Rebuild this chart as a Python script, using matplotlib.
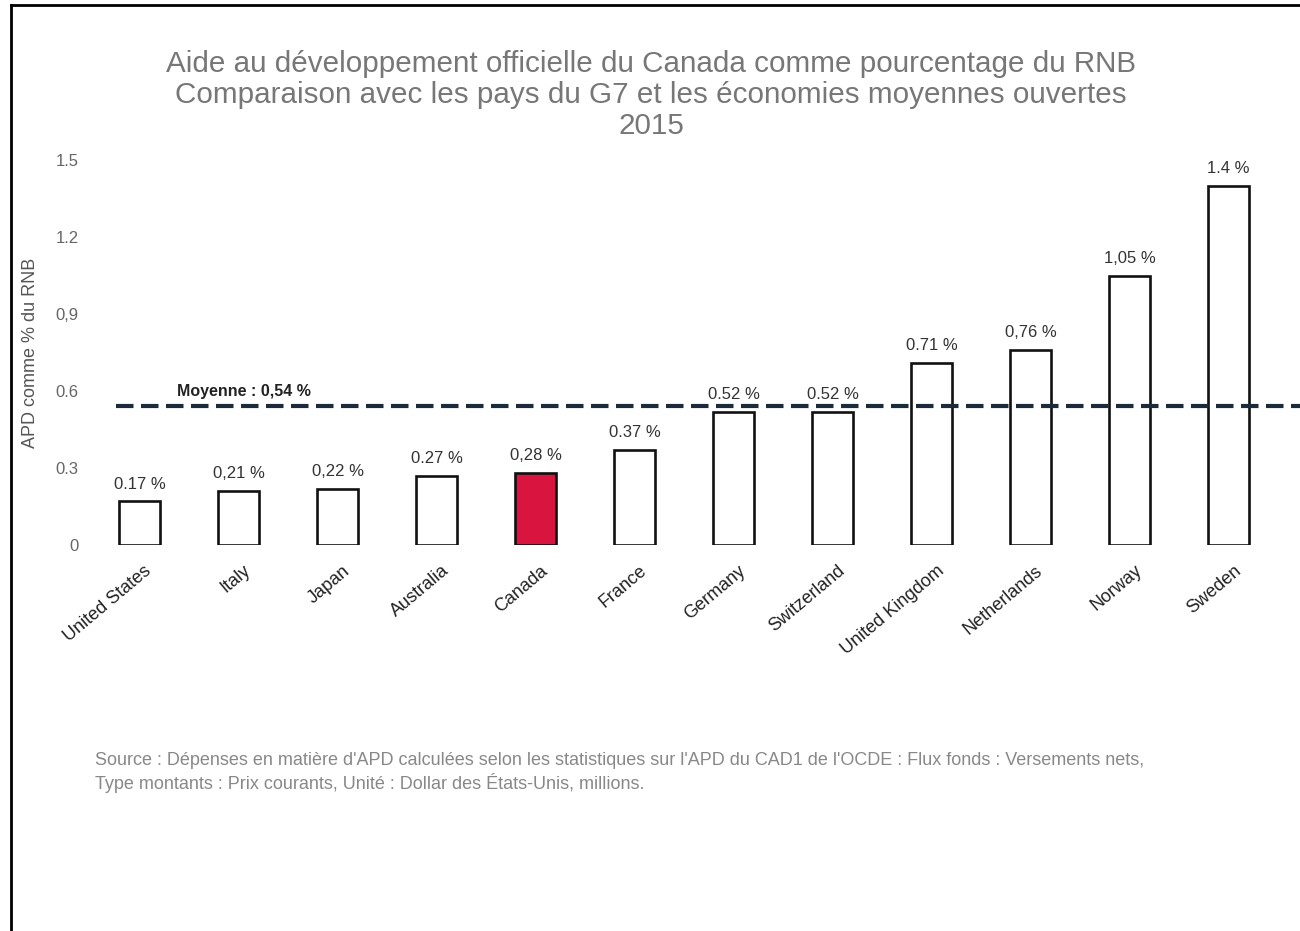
import matplotlib
matplotlib.use("Agg")
import matplotlib.pyplot as plt
from matplotlib.lines import Line2D
import matplotlib.transforms as mtransforms

plt.rcParams['font.family'] = ['Liberation Sans', 'DejaVu Sans']

# APD en % du RNB, 2015
pays = ['United States', 'Italy', 'Japan', 'Australia', 'Canada', 'France',
        'Germany', 'Switzerland', 'United Kingdom', 'Netherlands', 'Norway', 'Sweden']
apd = [0.17, 0.21, 0.22, 0.27, 0.28, 0.37, 0.52, 0.52, 0.71, 0.76, 1.05, 1.4]
etiquettes = ['0.17 %', '0,21 %', '0,22 %', '0.27 %', '0,28 %', '0.37 %',
              '0.52 %', '0.52 %', '0.71 %', '0,76 %', '1,05 %', '1.4 %']
moyenne = 0.54
yticks = [0, 0.3, 0.6, 0.9, 1.2, 1.5]
yticklabels = ['0', '0.3', '0.6', '0,9', '1.2', '1.5']

fig = plt.figure(figsize=(13, 9.31), dpi=100)
ax = fig.add_axes([0.0692, 0.4146, 0.9308, 0.4135])

couleurs = ['#d9143f' if p == 'Canada' else 'white' for p in pays]
x = range(len(pays))
bars = ax.bar(x, apd, width=0.41, color=couleurs, edgecolor='#111111', linewidth=1.9)

for b, txt in zip(bars, etiquettes):
    ax.annotate(txt, (b.get_x() + b.get_width() / 2, b.get_height()),
                xytext=(0, 7), textcoords='offset points',
                ha='center', va='bottom', fontsize=12, color='#333333')

# ligne de la moyenne
ax.plot([-0.24, 11.8], [moyenne, moyenne], color='#1c2a3a', linewidth=3,
        linestyle=(0, (4.2, 1.8)))
ax.text(0.38, moyenne + 0.03, 'Moyenne : 0,54 %', fontsize=11.5,
        fontweight='bold', color='#222222', ha='left', va='bottom')

ax.set_xlim(-0.5, 11.72)
ax.set_ylim(0, 1.5)
ax.set_yticks(yticks)
ax.set_yticklabels(yticklabels, color='#666666', fontsize=12)
ax.set_xticks(list(x))
ax.set_xticklabels(pays, rotation=40, ha='right', va='center',
                   rotation_mode='anchor', fontsize=13, color='#222222')
ax.tick_params(axis='both', length=0)
ax.tick_params(axis='x', pad=17)
ax.tick_params(axis='y', pad=8)
shift = mtransforms.ScaledTranslation(0.1, 0, fig.dpi_scale_trans)
for lab in ax.get_xticklabels():
    lab.set_transform(lab.get_transform() + shift)
for s in ax.spines.values():
    s.set_visible(False)

ax.set_ylabel('APD comme % du RNB', fontsize=13, color='#555555', labelpad=12)

fig.text(0.501, 0.946,
         'Aide au développement officielle du Canada comme pourcentage du RNB\n'
         'Comparaison avec les pays du G7 et les économies moyennes ouvertes\n2015',
         ha='center', va='top', fontsize=21.3, color='#777777', linespacing=1.12)

fig.text(0.073, 0.170,
         "Source : Dépenses en matière d'APD calculées selon les statistiques sur l'APD "
         "du CAD1 de l'OCDE : Flux fonds : Versements nets,\n"
         "Type montants : Prix courants, Unité : Dollar des États-Unis, millions.",
         ha='left', va='center', fontsize=13, color='#888888', linespacing=1.25)

# cadre
fig.add_artist(Line2D([0.0085, 0.0085], [0, 0.995], transform=fig.transFigure,
                      color='black', linewidth=2))
fig.add_artist(Line2D([0.0085, 1], [0.995, 0.995], transform=fig.transFigure,
                      color='black', linewidth=2))

fig.savefig('out.png', dpi=100)
